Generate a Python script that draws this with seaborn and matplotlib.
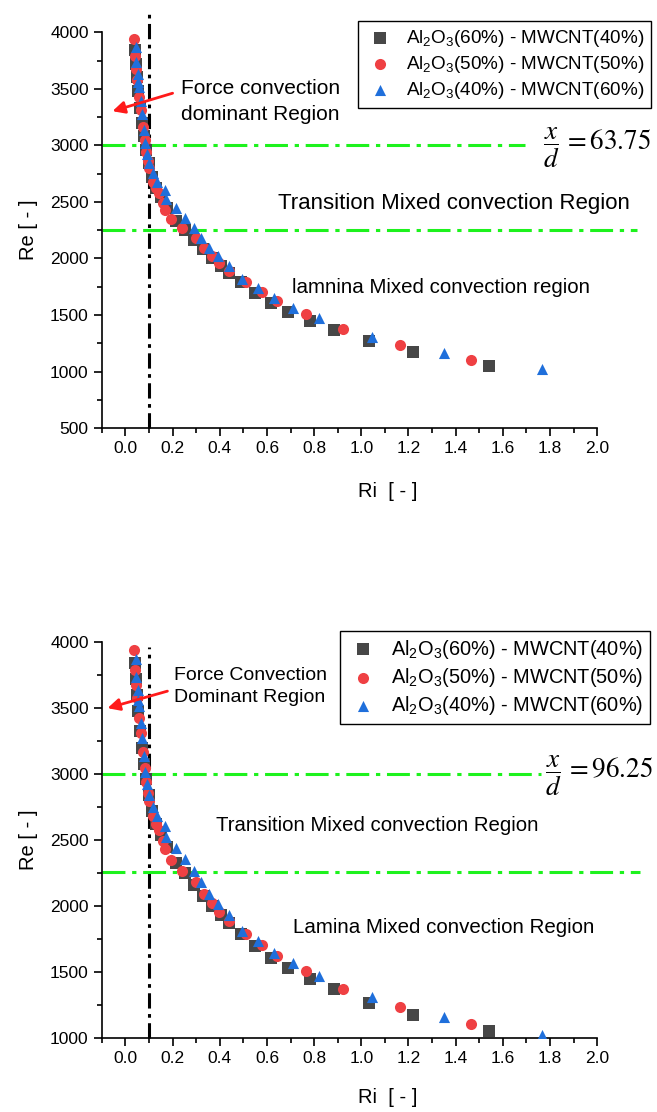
import matplotlib
matplotlib.use('Agg')
import matplotlib.pyplot as plt
import seaborn as sns
import pandas as pd

# Ri / Re data (same data in both panels)
ri_60_40 = [0.042, 0.046, 0.050, 0.055, 0.063, 0.070, 0.080, 0.088, 0.098, 0.112, 0.130, 0.150,
            0.178, 0.215, 0.252, 0.290, 0.330, 0.365, 0.405, 0.440, 0.489, 0.551, 0.619, 0.690,
            0.782, 0.885, 1.031, 1.218, 1.543]
re_60_40 = [3840, 3720, 3600, 3480, 3330, 3200, 3080, 2960, 2840, 2720, 2620, 2540,
            2450, 2330, 2250, 2160, 2080, 2000, 1930, 1870, 1791, 1697, 1603, 1529,
            1447, 1368, 1268, 1174, 1050]

ri_50_50 = [0.038, 0.042, 0.045, 0.049, 0.056, 0.064, 0.075, 0.082, 0.088, 0.095, 0.102, 0.116,
            0.129, 0.144, 0.158, 0.169, 0.194, 0.240, 0.299, 0.335, 0.365, 0.395, 0.440, 0.512,
            0.578, 0.644, 0.764, 0.924, 1.164, 1.467]
re_50_50 = [3944, 3788, 3679, 3576, 3429, 3312, 3165, 3047, 2944, 2860, 2797, 2679,
            2621, 2576, 2490, 2429, 2347, 2268, 2179, 2091, 2020, 1959, 1885, 1791,
            1703, 1624, 1506, 1374, 1232, 1103]

ri_40_60 = [0.045, 0.045, 0.052, 0.054, 0.056, 0.064, 0.069, 0.078, 0.085, 0.093, 0.102, 0.117,
            0.134, 0.167, 0.172, 0.216, 0.254, 0.290, 0.322, 0.356, 0.391, 0.438, 0.494, 0.560,
            0.631, 0.711, 0.821, 1.045, 1.351, 1.765]
re_40_60 = [3871, 3738, 3635, 3562, 3518, 3391, 3274, 3135, 3018, 2924, 2841, 2753,
            2679, 2606, 2526, 2444, 2356, 2268, 2179, 2091, 2018, 1929, 1815, 1735,
            1647, 1565, 1471, 1309, 1162, 1026]

labels = [r'Al$_2$O$_3$(60%) - MWCNT(40%)',
          r'Al$_2$O$_3$(50%) - MWCNT(50%)',
          r'Al$_2$O$_3$(40%) - MWCNT(60%)']
colors = ['#474747', '#ef4043', '#1f6fdb']
markers = ['s', 'o', '^']

sns.set_style('ticks')
plt.rcParams['font.family'] = ['Liberation Sans', 'DejaVu Sans']
plt.rcParams['mathtext.fontset'] = 'custom'
plt.rcParams['mathtext.rm'] = 'Liberation Sans'
plt.rcParams['mathtext.it'] = 'Liberation Sans:italic'
for key in ['text.color', 'axes.labelcolor', 'xtick.color', 'ytick.color', 'axes.edgecolor']:
    plt.rcParams[key] = 'black'

series = [(ri_60_40, re_60_40), (ri_50_50, re_50_50), (ri_40_60, re_40_60)]

fig = plt.figure(figsize=(6.57, 11.12), dpi=100)
ax_top = fig.add_axes([0.155, 0.615, 0.754, 0.356])
ax_bot = fig.add_axes([0.155, 0.0665, 0.754, 0.356])

panels = [
    dict(ax=ax_top, ylim=(500, 4000), green=(3000, 2250), green_end=(1.695, 2.17),
         xd='63.75', xd_pos=(1.77, 2975), vtop=4180,
         force='Force convection\ndominant Region', force_pos=(0.235, 3390), force_fs=15,
         force_ls=1.45, arrow=((0.20, 3461), (-0.055, 3302)),
         trans_pos=(0.645, 2489), trans_fs=16,
         lam='lamnina Mixed convection region', lam_pos=(0.705, 1746), lam_fs=14.8,
         leg=(0.991, 0.981), leg_fs=13.6, xlab_y=-0.137),
    dict(ax=ax_bot, ylim=(1000, 4000), green=(3000, 2260), green_end=(1.76, 2.18),
         xd='96.25', xd_pos=(1.78, 2985), vtop=3960,
         force='Force Convection\nDominant Region', force_pos=(0.205, 3667), force_fs=14,
         force_ls=1.4, arrow=((0.178, 3629), (-0.076, 3500)),
         trans_pos=(0.385, 2614), trans_fs=14.7,
         lam='Lamina Mixed convection Region', lam_pos=(0.71, 1841), lam_fs=14.8,
         leg=(0.990, 0.433), leg_fs=14.4, xlab_y=-0.127),
]

for p in panels:
    ax = p['ax']
    for (rx, ry), lab, c, m in zip(series, labels, colors, markers):
        df = pd.DataFrame({'Ri': rx, 'Re': ry})
        sns.scatterplot(data=df, x='Ri', y='Re', ax=ax, marker=m, color=c, s=64,
                        linewidth=0, label=lab, zorder=3)

    ax.set_xlim(-0.1, 2.0)
    ax.set_ylim(*p['ylim'])
    ax.set_xticks([i / 10 for i in range(0, 21, 2)])
    ax.set_xticks([i / 10 for i in range(-1, 21)], minor=True)
    ax.set_yticks(range(p['ylim'][0], 4001, 500))
    ax.set_yticks(range(p['ylim'][0], 4001, 250), minor=True)
    ax.tick_params(which='major', direction='out', length=6, width=1.2, labelsize=12.5)
    ax.tick_params(which='minor', direction='out', length=3.5, width=1.2)
    for s in ['top', 'right']:
        ax.spines[s].set_visible(False)
    for s in ['left', 'bottom']:
        ax.spines[s].set_linewidth(1.2)
    ax.set_xlabel('Ri  [ - ]', fontsize=14.5)
    ax.set_ylabel('Re [ - ]', fontsize=14.5)
    ax.xaxis.set_label_coords(0.578, p['xlab_y'])
    ax.yaxis.set_label_coords(-0.128, 0.5)

    # reference lines
    ax.plot([0.1, 0.1], [p['ylim'][0], p['vtop']], color='black', lw=2.2,
            dashes=(5, 1.8, 1.2, 1.8), clip_on=False, zorder=2)
    for yv, xe in zip(p['green'], p['green_end']):
        ax.plot([-0.1, xe], [yv, yv], color='#1df21d', lw=2.2,
                dashes=(7.5, 2.2, 1.4, 2.2), clip_on=False, zorder=2)

    ax.text(p['force_pos'][0], p['force_pos'][1], p['force'], fontsize=p['force_fs'],
            va='center', ha='left', linespacing=p['force_ls'])
    (tx, ty), (hx, hy) = p['arrow']
    ax.annotate('', xy=(hx, hy), xytext=(tx, ty), annotation_clip=False,
                arrowprops=dict(arrowstyle='-|>', color='#ff1a1a', lw=2,
                                mutation_scale=18, shrinkA=0, shrinkB=0))
    ax.text(p['trans_pos'][0], p['trans_pos'][1], 'Transition Mixed convection Region',
            fontsize=p['trans_fs'], va='center', ha='left')
    ax.text(p['lam_pos'][0], p['lam_pos'][1], p['lam'], fontsize=p['lam_fs'],
            va='center', ha='left')
    ax.text(p['xd_pos'][0], p['xd_pos'][1], r'$\dfrac{x}{d}\,=' + p['xd'] + '$',
            fontsize=19.5, va='center', ha='left', math_fontfamily='stix', clip_on=False)

    leg = ax.legend(loc='upper right', bbox_to_anchor=p['leg'], bbox_transform=fig.transFigure,
                    fontsize=p['leg_fs'], frameon=True, fancybox=False, edgecolor='black',
                    framealpha=1, handletextpad=0.6, borderpad=0.35, labelspacing=0.27,
                    handlelength=1.6, borderaxespad=0)
    leg.get_frame().set_linewidth(1.0)

fig.savefig('out.png', dpi=100)
